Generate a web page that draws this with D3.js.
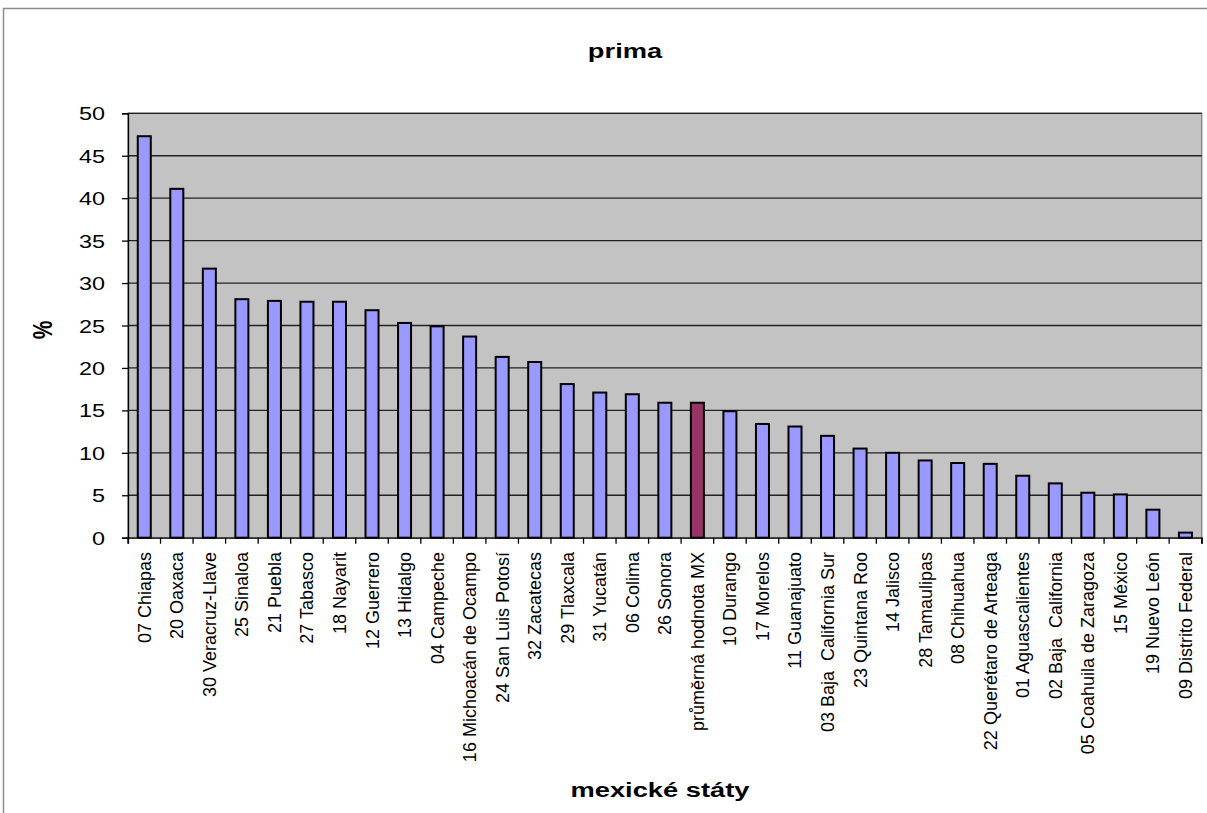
<!DOCTYPE html>
<html><head><meta charset="utf-8">
<script src="https://cdn.jsdelivr.net/npm/d3@7"></script>
<style>body{margin:0;background:#fff}svg{display:block;font-family:Arial,"Liberation Sans",sans-serif}</style>
</head><body><svg id="c" width="1207" height="813"></svg>
<script>
const categories = ["07 Chiapas","20 Oaxaca","30 Veracruz-Llave","25 Sinaloa","21 Puebla","27 Tabasco","18 Nayarit","12 Guerrero","13 Hidalgo","04 Campeche","16 Michoacán de Ocampo","24 San Luis Potosí","32 Zacatecas","29 Tlaxcala","31 Yucatán","06 Colima","26 Sonora","průměrná hodnota MX","10 Durango","17 Morelos","11 Guanajuato","03 Baja  California Sur","23 Quintana Roo","14 Jalisco","28 Tamaulipas","08 Chihuahua","22 Querétaro de Arteaga","01 Aguascalientes","02 Baja  California","05 Coahuila de Zaragoza","15 México","19 Nuevo León","09 Distrito Federal"];
const values = [47.3,41.1,31.7,28.1,27.9,27.8,27.8,26.8,25.3,24.9,23.7,21.3,20.7,18.1,17.1,16.9,15.9,15.9,14.9,13.4,13.1,12.0,10.5,10.0,9.1,8.8,8.7,7.3,6.4,5.3,5.1,3.3,0.6];
const highlight = ["průměrná hodnota MX"];
const yTicks = [0,5,10,15,20,25,30,35,40,45,50];
const title = "prima", xTitle = "mexické státy", yTitle = "%";

const svg = d3.select("#c");
const L=128, R=1201.7, T=113.3, B=537.7;
const x = d3.scaleBand().domain(categories).range([L,R]).padding(0);
const y = d3.scaleLinear().domain([0,50]).range([B,T]);

// outer border
svg.append("path").attr("d",`M3.5,813 V8.5 H1207`).attr("fill","none").attr("stroke","#8c8c8c").attr("stroke-width",1.5);

// plot area
svg.append("rect").attr("x",L).attr("y",T).attr("width",R-L).attr("height",B-T)
  .attr("fill","#c3c3c3").attr("stroke","#8c8c8c").attr("stroke-width",1.5);

// gridlines
svg.append("g").selectAll("line").data(yTicks.filter(d=>d>0)).join("line")
  .attr("x1",L).attr("x2",R).attr("y1",d=>y(d)).attr("y2",d=>y(d))
  .attr("stroke","#222").attr("stroke-width",1.3);

// bars
const bw = x.bandwidth()*0.4;
svg.append("g").selectAll("rect").data(categories).join("rect")
  .attr("x",d=>x(d)+x.bandwidth()/2-bw/2)
  .attr("y",(d,i)=>y(values[i]))
  .attr("width",bw)
  .attr("height",(d,i)=>B-y(values[i]))
  .attr("fill",d=>highlight.includes(d)?"#993366":"#9999ff")
  .attr("stroke","#000").attr("stroke-width",2);

// y axis
const yAxis = svg.append("g").attr("transform",`translate(${L},0)`)
  .call(d3.axisLeft(y).tickValues(yTicks).tickSize(6).tickPadding(0).tickFormat(d3.format("d")));
yAxis.select(".domain").attr("stroke","#000").attr("stroke-width",1.3);
yAxis.selectAll(".tick line").attr("stroke","#000").attr("stroke-width",1.3);
yAxis.selectAll(".tick text").attr("font-size",18).attr("fill","#000").attr("font-family","Arial, Liberation Sans")
  .attr("x",0).attr("dy",0)
  .attr("transform","translate(-23,6.5) scale(1.3,1)");

// x axis
const xAxis = svg.append("g").attr("transform",`translate(0,${B})`)
  .call(d3.axisBottom(x).tickSize(6).tickFormat(""));
xAxis.select(".domain").attr("stroke","#000").attr("stroke-width",1.3);
xAxis.selectAll(".tick line").attr("transform",`translate(${-x.bandwidth()/2},0)`).attr("stroke","#000").attr("stroke-width",1.3);
xAxis.append("line").attr("x1",R-L>0?R-x.step()*0+0-0:0).attr("x2",R).attr("y1",0).attr("y2",6).attr("stroke","#000").attr("stroke-width",1.3).attr("x1",R);
xAxis.selectAll(".tick text").remove();

// category labels
svg.append("g").selectAll("text").data(categories).join("text")
  .attr("transform",d=>`translate(${x(d)+x.bandwidth()/2+6.5},552) rotate(-90)`)
  .attr("text-anchor","end").attr("font-size",18).attr("fill","#000")
  .text(d=>d).style("white-space","pre");

// titles
svg.append("text").attr("transform","translate(625,58) scale(1.3,1)").attr("text-anchor","middle")
  .attr("font-size",21).attr("font-weight","bold").text(title);
svg.append("text").attr("transform","translate(660,797) scale(1.3,1)").attr("text-anchor","middle")
  .attr("font-size",21).attr("font-weight","bold").text(xTitle);
svg.append("text").attr("transform","translate(52,330) rotate(-90) scale(1.0,1.3)").attr("text-anchor","middle")
  .attr("font-size",21).attr("font-weight","bold").text(yTitle);
</script></body></html>
